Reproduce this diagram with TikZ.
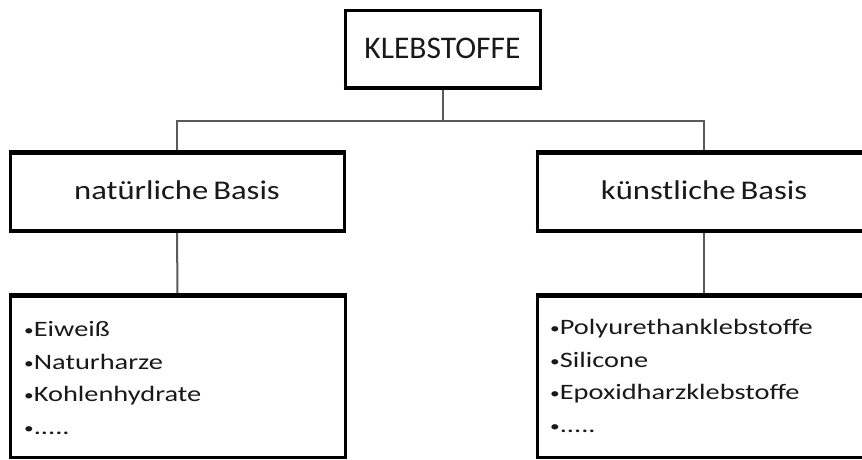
\documentclass[tikz,border=0pt]{standalone}
\usepackage{fontspec}
\setmainfont{Carlito}
\newfontfamily\midfont[FakeStretch=1.21]{Carlito}
\newfontfamily\listfont[FakeStretch=1.29]{Carlito}
\definecolor{connGray}{HTML}{5A5A5A}
\newcommand{\bul}{{\fontsize{15}{15}\selectfont\raisebox{1pt}{•}}}
\tikzset{
  box/.style={draw=black, line width=3pt, fill=white, inner sep=0pt},
  conn/.style={draw=connGray, line width=2pt},
  titletext/.style={font=\fontsize{31.5}{36}\selectfont, text=black!90},
  midtext/.style={font=\midfont\fontsize{27}{32}\selectfont, text=black!90},
  listtext/.style={font=\listfont\fontsize{22}{32.7}\selectfont, text=black!90, align=left, inner sep=0pt, anchor=north west}
}
\begin{document}
\begin{tikzpicture}[x=1pt, y=-1pt]
\clip (0,0) rectangle (862,459);
\fill[white] (0,0) rectangle (862,459);
% boxes
\node[box, minimum width=195pt, minimum height=77pt] (top) at (442.5,48.5) {};
\node[titletext] (toptext) at (top.center) {KLEBSTOFFE};
\node[box, minimum width=334pt, minimum height=77pt] (nat) at (177,191.5) {};
\node[midtext] (nattext) at ([yshift=1pt]nat.center) {natürliche\hspace{5pt}Basis};
\node[box, minimum width=334pt, minimum height=77pt] (kun) at (704,191.5) {};
\node[midtext] (kuntext) at ([yshift=1pt]kun.center) {künstliche\hspace{5pt}Basis};
\node[box, minimum width=335pt, minimum height=161pt] (natlist) at (177.5,376.5) {};
\node[box, minimum width=334pt, minimum height=161pt] (kunlist) at (704,376.5) {};
% connectors
\coordinate (j) at (442.5,121);
\draw[conn] (top.south) -- (j);
\draw[conn] (nat.north) -- (nat.north |- j) -- (kun.north |- j) -- (kun.north);
\draw[conn] (nat.south) -- (natlist.north);
\draw[conn] (kun.south) -- (kunlist.north);
% redraw box borders over connector ends
\draw[line width=3pt] (top.south west) -- (top.south east);
\draw[line width=3pt] (nat.north west) -- (nat.north east);
\draw[line width=3pt] (kun.north west) -- (kun.north east);
\draw[line width=3pt] (nat.south west) -- (nat.south east);
\draw[line width=3pt] (kun.south west) -- (kun.south east);
\draw[line width=3pt] (natlist.north west) -- (natlist.north east);
\draw[line width=3pt] (kunlist.north west) -- (kunlist.north east);
% lists
\node[listtext] (natitems) at (24,321) {\bul Eiweiß\\\bul Naturharze\\\bul Kohlenhydrate\\\bul .....};
\node[listtext] (kunitems) at (550,319) {\bul Polyurethanklebstoffe\\\bul Silicone\\\bul Epoxidharzklebstoffe\\\bul .....};
\end{tikzpicture}
\end{document}
